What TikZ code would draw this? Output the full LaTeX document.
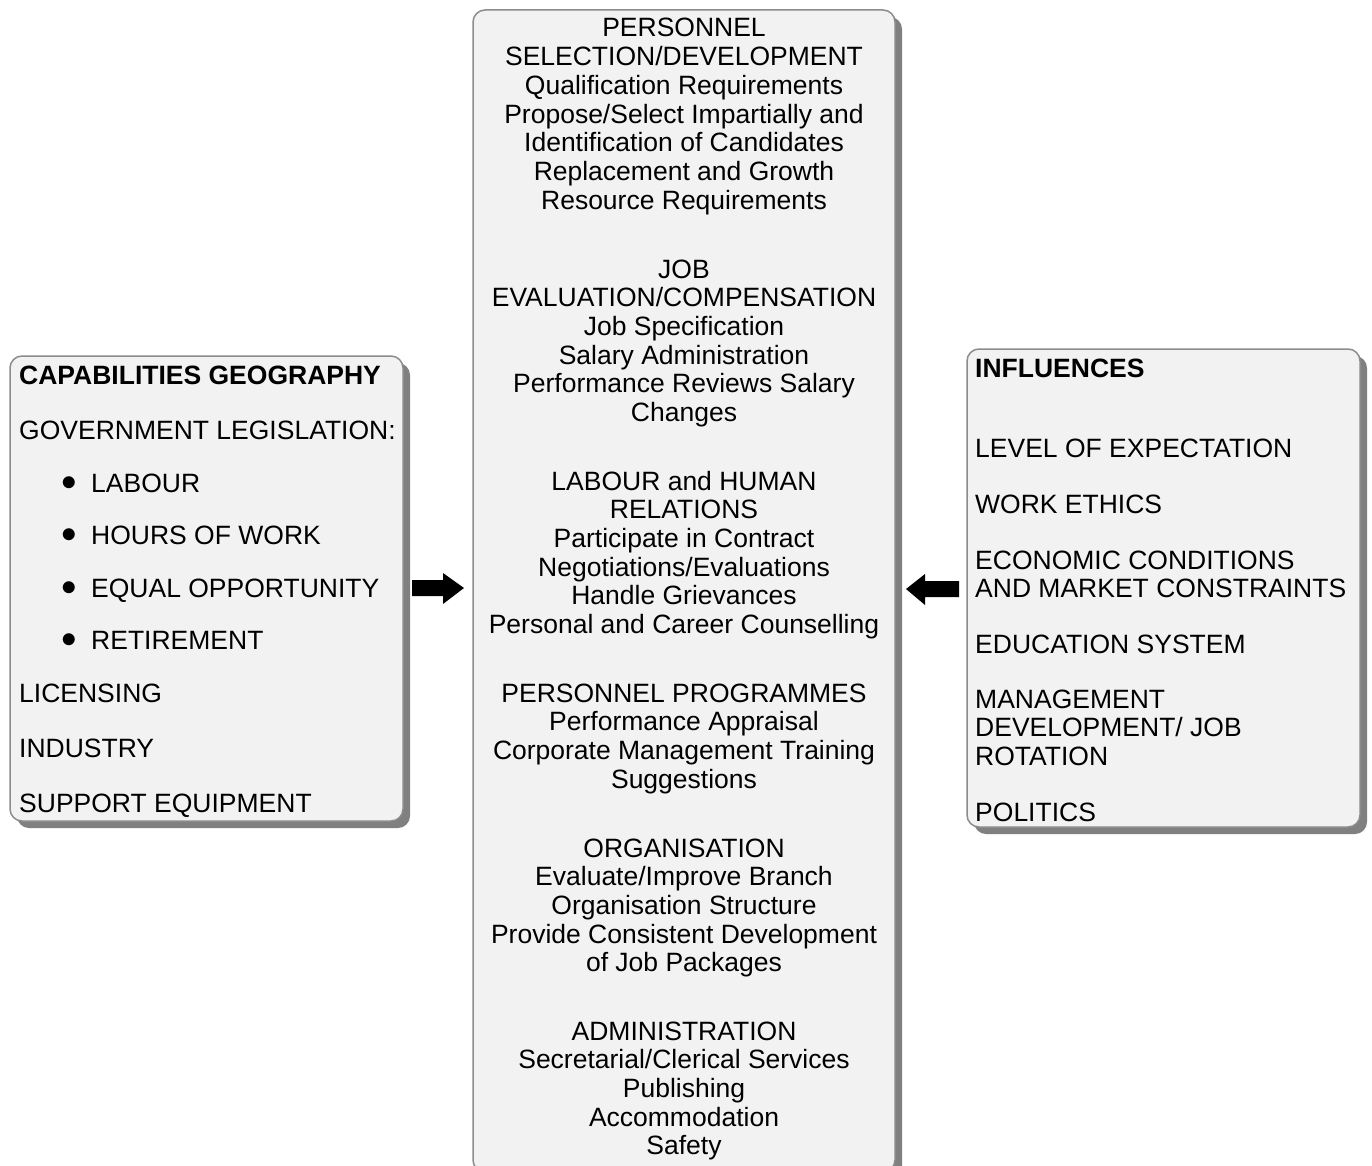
\documentclass[tikz,border=0pt]{standalone}
\usepackage{fontspec}
\setmainfont{Liberation Sans}
\usetikzlibrary{shadows}
\definecolor{panelfill}{HTML}{F2F2F2}
\definecolor{panelline}{HTML}{8C8C8C}
\definecolor{panelshadow}{HTML}{808080}
\newcommand{\txt}{\fontsize{26.5}{28.7}\selectfont}
\tikzset{
  panel/.style={draw=panelline, line width=1.5pt, fill=panelfill,
    rounded corners=12pt, inner sep=0pt,
    drop shadow={shadow xshift=7pt, shadow yshift=-7pt, fill=panelshadow, opacity=1}},
  sect/.style={align=center, anchor=base, inner sep=0pt, font=\txt},
  item/.style={align=left, anchor=base west, inner sep=0pt, font=\txt},
  dot/.style={anchor=center, inner sep=0pt, font=\txt, scale=1.25}
}
\begin{document}
\begin{tikzpicture}[x=1pt,y=-1pt]
  \useasboundingbox[fill=white] (0,0) rectangle (1372,1166);

  % the three panels
  \node[panel, minimum width=393pt, minimum height=465pt] (geo) at (206.5,588.5) {};
  \node[panel, minimum width=422pt, minimum height=1162pt] (pers) at (684,591) {};
  \node[panel, minimum width=393pt, minimum height=478pt] (infl) at (1163.5,588) {};

  % left panel
  \node[item] (g1) at (19,384) {\textbf{CAPABILITIES GEOGRAPHY}};
  \node[item] (g2) at (19,439) {GOVERNMENT LEGISLATION:};
  \node[dot] (d1) at (69,484) {$\bullet$};
  \node[item] (g3) at (91,492) {LABOUR};
  \node[dot] (d2) at (69,536) {$\bullet$};
  \node[item] (g4) at (91,544) {HOURS OF WORK};
  \node[dot] (d3) at (69,589) {$\bullet$};
  \node[item] (g5) at (91,597) {EQUAL OPPORTUNITY};
  \node[dot] (d4) at (69,641) {$\bullet$};
  \node[item] (g6) at (91,649) {RETIREMENT};
  \node[item] (g7) at (19,702) {LICENSING};
  \node[item] (g8) at (19,757) {INDUSTRY};
  \node[item] (g9) at (19,812) {SUPPORT EQUIPMENT};

  % middle panel (anchored at the last line)
  \node[sect] (s1) at (684,209.2) {PERSONNEL\\SELECTION/DEVELOPMENT\\Qualification Requirements\\
    Propose/Select Impartially and\\Identification of Candidates\\Replacement and Growth\\
    Resource Requirements};
  \node[sect] (s2) at (684,421.5) {JOB\\EVALUATION/COMPENSATION\\Job Specification\\
    Salary Administration\\Performance Reviews Salary\\Changes};
  \node[sect] (s3) at (684,633.5) {LABOUR and HUMAN\\RELATIONS\\Participate in Contract\\
    Negotiations/Evaluations\\Handle Grievances\\Personal and Career Counselling};
  \node[sect] (s4) at (684,788.1) {PERSONNEL PROGRAMMES\\Performance Appraisal\\
    Corporate Management Training\\Suggestions};
  \node[sect] (s5) at (684,971.8) {ORGANISATION\\Evaluate/Improve Branch\\Organisation Structure\\
    Provide Consistent Development\\of Job Packages};
  \node[sect] (s6) at (684,1154.8) {ADMINISTRATION\\Secretarial/Clerical Services\\Publishing\\
    Accommodation\\Safety};

  % right panel
  \node[item] (i1) at (975,377) {\textbf{INFLUENCES}};
  \node[item] (i2) at (975,457) {LEVEL OF EXPECTATION};
  \node[item] (i3) at (975,513) {WORK ETHICS};
  \node[item] (i4) at (975,597.7) {ECONOMIC CONDITIONS\\AND MARKET CONSTRAINTS};
  \node[item] (i5) at (975,653) {EDUCATION SYSTEM};
  \node[item] (i6) at (975,765.4) {MANAGEMENT\\DEVELOPMENT/ JOB\\ROTATION};
  \node[item] (i7) at (975,821) {POLITICS};

  % block arrows
  \coordinate (arL) at (412,588);
  \coordinate (arR) at (959,589);
  \fill (arL) ++(0,-8) -- ++(31,0) -- ++(0,-7) -- ++(21,15) -- ++(-21,16)
    -- ++(0,-8) -- ++(-31,0) -- cycle;
  \fill (arR) ++(0,-8) -- ++(-34,0) -- ++(0,-7) -- ++(-19,15) -- ++(19,16)
    -- ++(0,-8) -- ++(34,0) -- cycle;
\end{tikzpicture}
\end{document}
